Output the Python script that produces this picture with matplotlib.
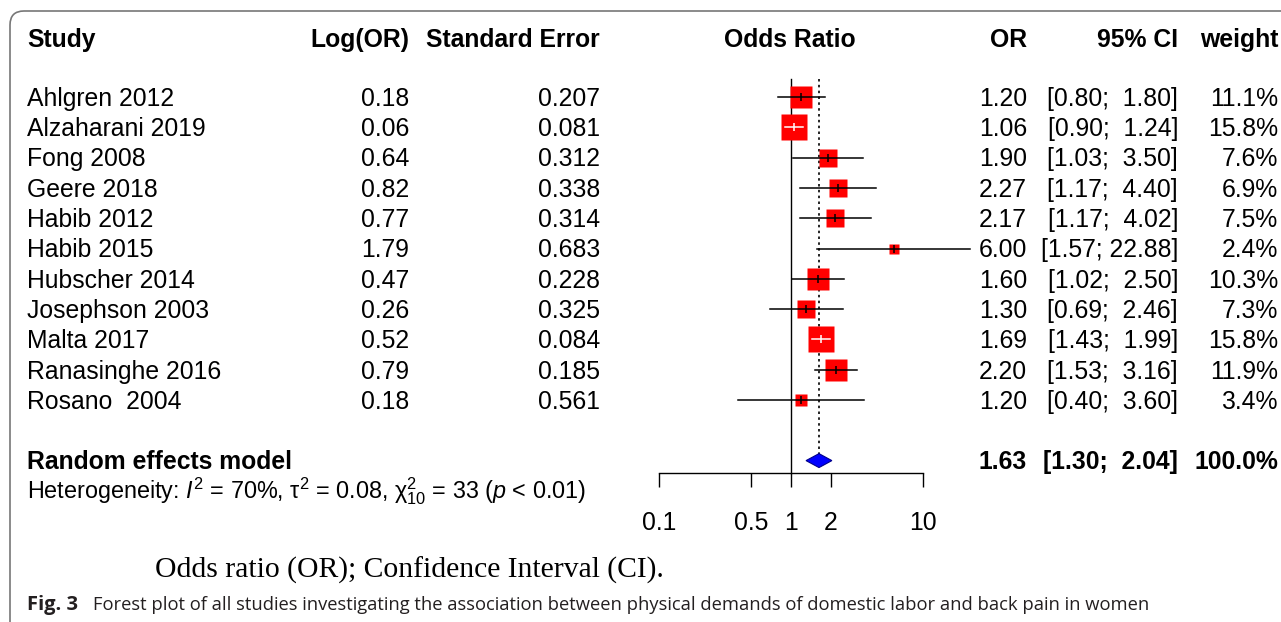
import numpy as np
import matplotlib.pyplot as plt
import matplotlib.transforms as mtransforms
from matplotlib.patches import FancyBboxPatch

studies = ['Ahlgren 2012', 'Alzaharani 2019', 'Fong 2008', 'Geere 2018', 'Habib 2012',
           'Habib 2015', 'Hubscher 2014', 'Josephson 2003', 'Malta 2017',
           'Ranasinghe 2016', 'Rosano  2004']
log_or = [0.18, 0.06, 0.64, 0.82, 0.77, 1.79, 0.47, 0.26, 0.52, 0.79, 0.18]
se = [0.207, 0.081, 0.312, 0.338, 0.314, 0.683, 0.228, 0.325, 0.084, 0.185, 0.561]
odds = [1.20, 1.06, 1.90, 2.27, 2.17, 6.00, 1.60, 1.30, 1.69, 2.20, 1.20]
ci_low = [0.80, 0.90, 1.03, 1.17, 1.17, 1.57, 1.02, 0.69, 1.43, 1.53, 0.40]
ci_high = [1.80, 1.24, 3.50, 4.40, 4.02, 22.88, 2.50, 2.46, 1.99, 3.16, 3.60]
weight = [11.1, 15.8, 7.6, 6.9, 7.5, 2.4, 10.3, 7.3, 15.8, 11.9, 3.4]

pooled_or = 1.63
pooled_low = 1.30
pooled_high = 2.04

xticks = [0.1, 0.5, 1, 2, 10]
xtick_labels = ['0.1', '0.5', '1', '2', '10']

W, H = 1281, 622
plt.rcParams['font.family'] = ['Liberation Sans', 'DejaVu Sans']
plt.rcParams['mathtext.fontset'] = 'custom'
plt.rcParams['mathtext.rm'] = 'Liberation Sans'
plt.rcParams['mathtext.it'] = 'Liberation Sans:italic'

fig = plt.figure(figsize=(W / 100, H / 100), dpi=100)

# forest axes: 0.1 -> x=659px, 10 -> x=923px, row r -> y = 97 + 30.3*r
y0, dy = 97, 30.3
r_top, r_bot = -2.5, (473 - y0) / dy
ax_top_px = y0 + r_top * dy
ax = fig.add_axes([659 / W, (H - 473) / H, (923 - 659) / W, (473 - ax_top_px) / H])
ax.set_xscale('log')
ax.set_xlim(0.1, 10)
ax.set_ylim(r_bot, r_top)
for s in ['left', 'top', 'right']:
    ax.spines[s].set_visible(False)
ax.spines['bottom'].set_linewidth(1.0)
ax.set_yticks([])
fs = 17.8
ax.set_xticks(xticks)
ax.set_xticklabels(xtick_labels, fontsize=fs)
ax.minorticks_off()
ax.tick_params(axis='x', length=10, width=1.0, pad=17)
ax.patch.set_alpha(0)

n = len(studies)
rows = np.arange(n)
pooled_row = 12

ax.plot([1, 1], [-0.6, r_bot], color='black', lw=1.0, clip_on=False)
ax.plot([pooled_or, pooled_or], [-0.6, pooled_row - 0.23], color='black', lw=1.2,
        ls=(0, (1.5, 2)), clip_on=False)

px_per_dec = (923 - 659) / 2
for i in range(n):
    side = 6.6 * np.sqrt(weight[i])
    ci_px = (np.log10(ci_high[i]) - np.log10(ci_low[i])) * px_per_dec
    col = 'white' if ci_px < side else 'black'
    ax.plot(odds[i], rows[i], marker='s', ms=side * 0.72, color='red', mec='none',
            ls='none', clip_on=False, zorder=3)
    ax.plot([ci_low[i], ci_high[i]], [rows[i], rows[i]], color=col, lw=1.1,
            clip_on=False, zorder=4)
    ax.plot(odds[i], rows[i], marker='|', ms=6, mew=1.1, color=col, ls='none',
            clip_on=False, zorder=5)

ax.fill([pooled_low, pooled_or, pooled_high, pooled_or],
        [pooled_row, pooled_row - 0.23, pooled_row, pooled_row + 0.23],
        facecolor='#0000ff', edgecolor='#00008b', lw=0.8, clip_on=False, zorder=3)

# text columns
tr = mtransforms.blended_transform_factory(fig.transFigure, ax.transData)
t_off = 0.06
hdr = -1.95 + t_off
ax.text(27 / W, hdr, 'Study', transform=tr, ha='left', va='center', fontsize=fs, fontweight='bold')
ax.text(409 / W, hdr, 'Log(OR)', transform=tr, ha='right', va='center', fontsize=fs, fontweight='bold')
ax.text(600 / W, hdr, 'Standard Error', transform=tr, ha='right', va='center', fontsize=fs, fontweight='bold')
ax.text(790 / W, hdr, 'Odds Ratio', transform=tr, ha='center', va='center', fontsize=fs, fontweight='bold')
ax.text(1027 / W, hdr, 'OR', transform=tr, ha='right', va='center', fontsize=fs, fontweight='bold')
ax.text(1178 / W, hdr, '95% CI', transform=tr, ha='right', va='center', fontsize=fs, fontweight='bold')
ax.text(1278 / W, hdr, 'weight', transform=tr, ha='right', va='center', fontsize=fs, fontweight='bold')

for i in range(n):
    r = rows[i] + t_off
    ax.text(27 / W, r, studies[i], transform=tr, ha='left', va='center', fontsize=fs)
    ax.text(409 / W, r, f'{log_or[i]:.2f}', transform=tr, ha='right', va='center', fontsize=fs)
    ax.text(600 / W, r, f'{se[i]:.3f}', transform=tr, ha='right', va='center', fontsize=fs)
    ax.text(1027 / W, r, f'{odds[i]:.2f}', transform=tr, ha='right', va='center', fontsize=fs)
    ax.text(1178 / W, r, f'[{ci_low[i]:.2f}; {ci_high[i]:>5.2f}]', transform=tr,
            ha='right', va='center', fontsize=fs)
    ax.text(1278 / W, r, f'{weight[i]:.1f}%', transform=tr, ha='right', va='center', fontsize=fs)

pr = pooled_row + t_off
ax.text(27 / W, pr, 'Random effects model', transform=tr, ha='left', va='center',
        fontsize=fs, fontweight='bold')
ax.text(1027 / W, pr, f'{pooled_or:.2f}', transform=tr, ha='right', va='center',
        fontsize=fs, fontweight='bold')
ax.text(1178 / W, pr, f'[{pooled_low:.2f}; {pooled_high:>5.2f}]', transform=tr,
        ha='right', va='center', fontsize=fs, fontweight='bold')
ax.text(1278 / W, pr, '100.0%', transform=tr, ha='right', va='center',
        fontsize=fs, fontweight='bold')
ax.text(27 / W, pooled_row + 1.0,
        r'Heterogeneity: $\mathit{I}^2$ = 70%, $\mathrm{\tau}^2$ = 0.08, '
        r'$\mathrm{\chi}^2_{10}$ = 33 ($\mathit{p}$ < 0.01)',
        transform=tr, ha='left', va='center', fontsize=16.8)

# captions
fig.text(155 / W, 1 - 570 / H, 'Odds ratio (OR); Confidence Interval (CI).',
         family='Liberation Serif', fontsize=21.3, ha='left', va='center')
fig.text(27 / W, 1 - 605 / H, 'Fig. 3', family='Open Sans', fontweight='bold',
         fontsize=14.5, ha='left', va='center', color='#231f20')
fig.text(93 / W, 1 - 605 / H,
         'Forest plot of all studies investigating the association between physical '
         'demands of domestic labor and back pain in women',
         family='Open Sans', fontsize=13.2, ha='left', va='center', color='#231f20')

# journal frame
frame = FancyBboxPatch((0.10, -0.3), 13.2, 6.11 + 0.3,
                       boxstyle='round,pad=0,rounding_size=0.14',
                       transform=fig.dpi_scale_trans, fill=False,
                       edgecolor='#777777', lw=1.2)
fig.patches.append(frame)

fig.savefig('out.png', dpi=100)
